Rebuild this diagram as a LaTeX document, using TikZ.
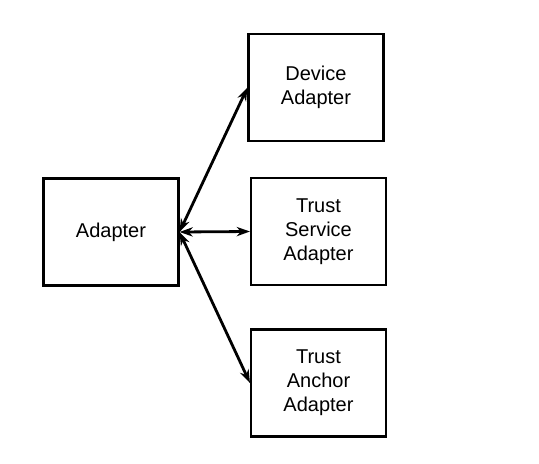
\documentclass[tikz,border=0pt]{standalone}
\usepackage{fontspec}
\setmainfont{Liberation Sans}
\usetikzlibrary{arrows.meta}
\begin{document}
\begin{tikzpicture}[x=0.75pt,y=-0.75pt,
  box/.style={draw,line width=1.8pt,minimum width=101pt,minimum height=80pt,align=center,inner sep=0pt,font=\fontsize{15}{18}\selectfont},
  conn/.style={line width=2.1pt,{Stealth[length=10pt,width=7pt]}-{Stealth[length=10pt,width=7pt]}}]
\useasboundingbox (0,0) rectangle (539,464);
\node[box] (ad) at (111,232) {Adapter};
\node[box] (dev) at (316,87.5) {Device\\Adapter};
\node[box] (ts) at (318.5,231.5) {Trust\\Service\\Adapter};
\node[box] (ta) at (318.5,383) {Trust\\Anchor\\Adapter};
\draw[conn] (ad.east) -- (dev.west);
\draw[conn] (ad.east) -- (ts.west);
\draw[conn] (ad.east) -- (ta.west);
\end{tikzpicture}
\end{document}
